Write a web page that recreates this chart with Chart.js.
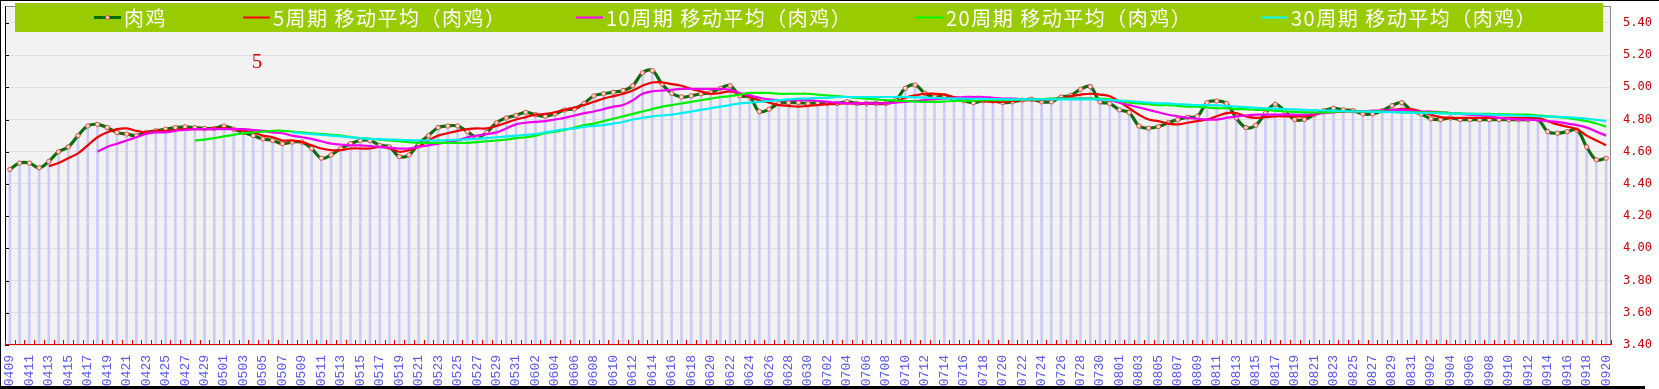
<!DOCTYPE html>
<html>
<head>
<meta charset="utf-8">
<script src="https://cdn.jsdelivr.net/npm/chart.js@4.4.1/dist/chart.umd.min.js"></script>
<style>
  html, body { margin: 0; padding: 0; background: #fff; }
  #wrap { width: 1659px; height: 389px; }
</style>
</head>
<body>
<div id="wrap"><canvas id="myChart" width="1659" height="389"></canvas></div>
<script>
// 日期 (0409 - 0920)
const dates = [
  "0409","0410","0411","0412","0413","0414","0415","0416","0417","0418","0419","0420","0421","0422","0423","0424","0425","0426","0427","0428","0429","0430",
  "0501","0502","0503","0504","0505","0506","0507","0508","0509","0510","0511","0512","0513","0514","0515","0516","0517","0518","0519","0520","0521","0522","0523","0524","0525","0526","0527","0528","0529","0530","0531",
  "0601","0602","0603","0604","0605","0606","0607","0608","0609","0610","0611","0612","0613","0614","0615","0616","0617","0618","0619","0620","0621","0622","0623","0624","0625","0626","0627","0628","0629","0630",
  "0701","0702","0703","0704","0705","0706","0707","0708","0709","0710","0711","0712","0713","0714","0715","0716","0717","0718","0719","0720","0721","0722","0723","0724","0725","0726","0727","0728","0729","0730","0731",
  "0801","0802","0803","0804","0805","0806","0807","0808","0809","0810","0811","0812","0813","0814","0815","0816","0817","0818","0819","0820","0821","0822","0823","0824","0825","0826","0827","0828","0829","0830","0831",
  "0901","0902","0903","0904","0905","0906","0907","0908","0909","0910","0911","0912","0913","0914","0915","0916","0917","0918","0919","0920"
];

// 肉鸡 价格
const price = [
  4.49,4.53,4.53,4.50,4.54,4.60,4.63,4.70,4.76,4.77,4.75,4.72,4.71,4.70,4.72,4.73,4.74,4.75,4.755,4.75,4.745,4.745,
  4.76,4.74,4.72,4.70,4.68,4.67,4.65,4.66,4.66,4.62,4.56,4.58,4.62,4.65,4.67,4.67,4.64,4.63,4.57,4.58,4.65,4.70,4.75,4.76,4.76,4.725,4.69,4.72,4.78,4.81,4.826,
  4.845,4.83,4.82,4.835,4.86,4.866,4.90,4.947,4.96,4.97,4.98,5.01,5.09,5.104,5.02,4.963,4.94,4.947,4.96,4.967,4.994,5.01,4.947,4.94,4.85,4.864,4.90,4.905,
  4.905,4.90,4.905,4.90,4.90,4.91,4.90,4.90,4.90,4.90,4.92,4.994,5.015,4.963,4.94,4.947,4.926,4.917,4.905,4.917,4.915,4.905,4.91,4.92,4.926,4.91,4.91,4.94,4.95,4.988,5.005,4.91,
  4.90,4.86,4.843,4.76,4.746,4.756,4.78,4.80,4.814,4.82,4.905,4.915,4.90,4.81,4.75,4.765,4.84,4.895,4.85,4.80,4.80,4.83,4.855,4.87,4.86,4.855,4.835,4.835,4.855,4.886,4.905,
  4.855,4.835,4.804,4.80,4.81,4.80,4.80,4.80,4.80,4.80,4.80,4.80,4.80,4.80,4.725,4.715,4.725,4.735,4.63,4.55,4.56
];

// 5周期 移动平均 (从 0413 开始)
const ma5 = [
  4.51,4.53,4.56,4.59,4.64,4.69,4.72,4.74,4.745,4.73,4.72,4.73,4.73,4.735,4.74,4.74,4.74,4.745,4.745,4.74,4.73,4.72,4.70,4.69,4.67,4.67,4.66,4.64,4.62,4.61,
  4.61,4.62,4.62,4.62,4.63,4.62,4.60,4.61,4.63,4.67,4.70,4.715,4.73,4.74,4.745,4.745,4.76,4.78,4.80,4.815,4.83,4.835,4.845,4.86,4.875,4.89,4.91,4.93,4.945,4.96,
  4.98,5.01,5.03,5.03,5.02,5.01,4.99,4.975,4.96,4.965,4.975,4.96,4.94,4.92,4.905,4.89,4.885,4.88,4.885,4.89,4.895,4.90,4.90,4.90,4.90,4.90,4.90,4.91,4.935,4.95,
  4.96,4.96,4.955,4.94,4.93,4.92,4.915,4.91,4.91,4.915,4.92,4.92,4.92,4.925,4.93,4.945,4.955,4.96,4.955,4.945,4.91,4.87,4.83,4.80,4.79,4.775,4.77,4.78,4.79,4.80,
  4.82,4.84,4.84,4.82,4.81,4.815,4.82,4.82,4.82,4.82,4.83,4.845,4.85,4.85,4.85,4.85,4.85,4.855,4.86,4.865,4.865,4.85,4.83,4.815,4.81,4.81,4.81,4.81,4.81,4.81,
  4.81,4.81,4.81,4.81,4.79,4.77,4.755,4.74,4.70,4.67,4.64
];

// 10周期 移动平均 (从 0418 开始)
const ma10 = [
  4.60,4.63,4.65,4.67,4.69,4.71,4.72,4.72,4.73,4.735,4.74,4.74,4.74,4.74,4.74,4.74,4.735,4.73,4.72,4.715,4.70,4.69,4.68,4.665,4.65,4.645,4.64,4.64,4.635,4.63,
  4.625,4.62,4.62,4.63,4.64,4.65,4.66,4.67,4.69,4.70,4.71,4.72,4.745,4.77,4.78,4.785,4.79,4.80,4.81,4.825,4.84,4.85,4.865,4.88,4.89,4.92,4.96,4.975,4.98,4.985,
  4.99,4.99,4.99,4.99,4.99,4.985,4.965,4.95,4.935,4.925,4.92,4.92,4.92,4.92,4.915,4.91,4.905,4.90,4.90,4.90,4.90,4.90,4.905,4.91,4.915,4.92,4.926,4.93,4.935,4.94,
  4.94,4.94,4.935,4.93,4.93,4.926,4.926,4.926,4.928,4.93,4.93,4.93,4.93,4.925,4.92,4.905,4.89,4.875,4.86,4.845,4.83,4.82,4.81,4.805,4.80,4.80,4.81,4.82,4.825,4.83,
  4.83,4.83,4.83,4.83,4.83,4.835,4.84,4.845,4.85,4.85,4.85,4.855,4.855,4.86,4.86,4.855,4.85,4.85,4.845,4.84,4.835,4.83,4.825,4.82,4.81,4.805,4.80,4.80,4.795,4.79,
  4.785,4.775,4.765,4.75,4.725,4.70
];

// 20周期 移动平均 (从 0428 开始)
const ma20 = [
  4.67,4.675,4.685,4.695,4.705,4.715,4.72,4.725,4.73,4.73,4.725,4.72,4.715,4.71,4.705,4.70,4.69,4.685,4.68,4.675,4.67,4.665,4.66,4.655,4.655,4.655,4.655,4.655,4.655,4.66,
  4.665,4.67,4.675,4.685,4.69,4.70,4.715,4.725,4.735,4.75,4.765,4.775,4.79,4.805,4.82,4.835,4.85,4.865,4.88,4.89,4.90,4.91,4.92,4.93,4.94,4.945,4.955,4.965,4.965,4.965,
  4.96,4.96,4.96,4.96,4.955,4.95,4.945,4.94,4.935,4.93,4.925,4.92,4.918,4.915,4.912,4.91,4.91,4.912,4.915,4.915,4.918,4.92,4.92,4.92,4.922,4.925,4.925,4.927,4.93,4.93,
  4.93,4.93,4.93,4.93,4.925,4.915,4.905,4.90,4.895,4.89,4.89,4.885,4.88,4.88,4.875,4.87,4.87,4.865,4.865,4.86,4.86,4.855,4.85,4.848,4.845,4.845,4.845,4.848,4.85,4.85,
  4.85,4.85,4.85,4.848,4.845,4.845,4.845,4.845,4.845,4.84,4.838,4.835,4.835,4.835,4.833,4.832,4.83,4.83,4.825,4.82,4.815,4.81,4.80,4.79,4.775,4.755
];

// 30周期 移动平均 (从 0508 开始)
const ma30 = [
  4.72,4.715,4.71,4.705,4.70,4.695,4.69,4.685,4.68,4.678,4.676,4.674,4.672,4.67,4.67,4.67,4.672,4.675,4.678,4.68,4.685,4.69,4.695,4.70,4.705,4.71,4.72,4.73,4.74,4.745,
  4.755,4.76,4.765,4.775,4.785,4.80,4.81,4.82,4.825,4.83,4.84,4.85,4.86,4.87,4.88,4.89,4.90,4.905,4.91,4.915,4.92,4.925,4.93,4.93,4.935,4.935,4.94,4.94,4.94,4.94,
  4.94,4.94,4.94,4.94,4.938,4.936,4.934,4.932,4.93,4.93,4.928,4.928,4.927,4.926,4.925,4.925,4.925,4.925,4.925,4.925,4.925,4.925,4.925,4.925,4.92,4.918,4.915,4.91,4.905,4.90,
  4.90,4.895,4.893,4.89,4.89,4.888,4.885,4.88,4.877,4.873,4.87,4.868,4.865,4.863,4.86,4.858,4.856,4.855,4.853,4.85,4.85,4.848,4.847,4.846,4.845,4.843,4.841,4.84,4.838,4.837,
  4.836,4.835,4.833,4.831,4.829,4.827,4.825,4.822,4.82,4.818,4.816,4.815,4.81,4.805,4.798,4.79
];

const yTicks = [3.40, 3.60, 3.80, 4.00, 4.20, 4.40, 4.60, 4.80, 5.00, 5.20, 5.40];

const legendItems = [
  { text: "肉鸡", color: "#006e00" },
  { text: "5周期 移动平均（肉鸡）", color: "#ff0000" },
  { text: "10周期 移动平均（肉鸡）", color: "#ff00ff" },
  { text: "20周期 移动平均（肉鸡）", color: "#00ff00" },
  { text: "30周期 移动平均（肉鸡）", color: "#00ffff" }
];
const legendTextX = [124, 273, 606, 946, 1291];

function pad(arr) {
  return new Array(dates.length - arr.length).fill(null).concat(arr);
}

const decor = {
  id: "decor",
  beforeDraw(chart) {
    const c = chart.ctx;
    const a = chart.chartArea;
    c.save();
    c.fillStyle = "#ffffff";
    c.fillRect(0, 0, chart.width, chart.height);
    c.fillStyle = "#f3f2f2";
    c.fillRect(a.left, a.top, a.right - a.left, a.bottom - a.top);
    c.restore();
  },
  afterDraw(chart) {
    const c = chart.ctx;
    const a = chart.chartArea;
    const xs = chart.scales.x;
    const ys = chart.scales.y;
    c.save();

    // top + right frame
    c.strokeStyle = "#8c8c8c";
    c.lineWidth = 1;
    c.beginPath();
    c.moveTo(a.left, a.top + 0.5);
    c.lineTo(a.right - 0.5, a.top + 0.5);
    c.lineTo(a.right - 0.5, a.bottom);
    c.stroke();

    // left axis with inward ticks
    c.strokeStyle = "#000";
    c.beginPath();
    c.moveTo(a.left + 0.5, a.top);
    c.lineTo(a.left + 0.5, a.bottom);
    yTicks.forEach(v => {
      const y = Math.round(ys.getPixelForValue(v)) + 0.5;
      c.moveTo(a.left, y);
      c.lineTo(a.left + 4, y);
    });
    c.stroke();

    // right axis labels
    c.fillStyle = "#cc0000";
    c.font = '12px "DejaVu Sans Mono"';
    c.textAlign = "left";
    c.textBaseline = "middle";
    yTicks.forEach(v => {
      c.fillText(v.toFixed(2), a.right + 12, ys.getPixelForValue(v));
    });

    // bottom axis red with upward ticks at category boundaries
    c.strokeStyle = "#e00000";
    c.beginPath();
    c.moveTo(a.left, a.bottom - 0.5);
    c.lineTo(a.right, a.bottom - 0.5);
    const step = xs.getPixelForValue(1) - xs.getPixelForValue(0);
    for (let i = 0; i <= dates.length; i++) {
      const x = Math.round(xs.getPixelForValue(i) - step / 2) + 0.5;
      c.moveTo(x, a.bottom);
      c.lineTo(x, a.bottom - 5);
    }
    c.stroke();

    // legend band
    c.fillStyle = "#99cc00";
    c.fillRect(15, 3, 1588, 29);
    c.font = '20px "Noto Sans CJK SC"';
    c.letterSpacing = "1.5px";
    c.textBaseline = "middle";
    legendItems.forEach((it, i) => {
      const tx = legendTextX[i];
      c.strokeStyle = it.color;
      c.lineWidth = i === 0 ? 3 : 2;
      c.beginPath();
      c.moveTo(tx - 30, 17.5);
      c.lineTo(tx - 3, 17.5);
      c.stroke();
      if (i === 0) {
        c.fillStyle = "#ffd0d0";
        c.strokeStyle = "#e04040";
        c.lineWidth = 1;
        c.beginPath();
        c.arc(tx - 16.5, 17.5, 2, 0, Math.PI * 2);
        c.fill();
        c.stroke();
      }
      c.fillStyle = "#ffffff";
      c.fillText(it.text, tx, 18);
    });
    c.letterSpacing = "0px";

    // red marker text
    c.fillStyle = "#e00000";
    c.font = '21px "Liberation Serif"';
    c.textAlign = "center";
    c.fillText("5", 257, 62);

    // outer black border
    c.fillStyle = "#000";
    c.fillRect(0, 0, chart.width, 1);
    c.fillRect(0, 0, 1, chart.height);
    c.fillRect(0, 386, 1645, 3);
    c.restore();
  }
};

const ctx = document.getElementById("myChart");
new Chart(ctx, {
  type: "bar",
  data: {
    labels: dates,
    datasets: [
      { type: "line", label: "30周期", data: pad(ma30), borderColor: "#00f0f0", borderWidth: 2.2, pointRadius: 0, tension: 0.4 },
      { type: "line", label: "20周期", data: pad(ma20), borderColor: "#00f000", borderWidth: 2.2, pointRadius: 0, tension: 0.4 },
      { type: "line", label: "10周期", data: pad(ma10), borderColor: "#f000f0", borderWidth: 2.2, pointRadius: 0, tension: 0.4 },
      { type: "line", label: "5周期", data: pad(ma5), borderColor: "#ee0000", borderWidth: 2.2, pointRadius: 0, tension: 0.4 },
      {
        type: "line", label: "肉鸡", data: price, borderColor: "#0a6e0a", borderWidth: 3.2, tension: 0.4,
        pointRadius: 2.2, pointBackgroundColor: "#ffd8d0", pointBorderColor: "#e05050", pointBorderWidth: 1
      },
      { type: "bar", label: "bar", data: price, backgroundColor: "#cbcbf6", barThickness: 2 }
    ]
  },
  options: {
    responsive: false,
    animation: false,
    layout: { padding: { left: 3, top: 6, right: 0, bottom: 0 } },
    plugins: { legend: { display: false }, tooltip: { enabled: false } },
    scales: {
      x: {
        offset: true,
        grid: { display: false },
        border: { display: false },
        ticks: {
          autoSkip: false,
          minRotation: 90,
          maxRotation: 90,
          padding: 2,
          color: "#5a5af0",
          font: { family: "Liberation Mono", size: 13 },
          callback: (v, i) => (i % 2 === 0 ? dates[i] : "")
        },
        afterFit: s => { s.height = 44; }
      },
      y: {
        position: "right",
        min: 3.4,
        max: 5.505,
        afterBuildTicks: s => { s.ticks = yTicks.map(v => ({ value: v })); },
        ticks: { display: false },
        grid: { color: "rgba(190,190,190,0.35)", drawTicks: false },
        border: { display: false },
        afterFit: s => { s.width = 48; }
      }
    }
  },
  plugins: [decor]
});
</script>
</body>
</html>
